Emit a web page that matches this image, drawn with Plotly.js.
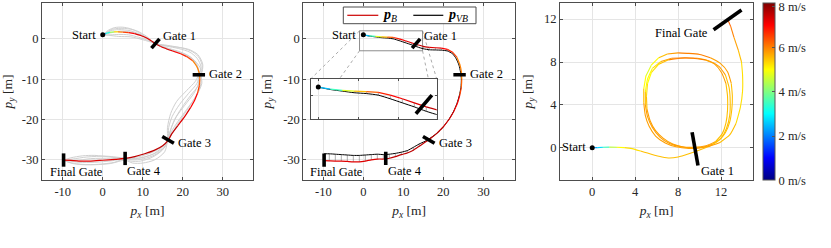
<!DOCTYPE html>
<html><head><meta charset="utf-8">
<script src="https://cdn.plot.ly/plotly-3.0.1.min.js"></script>
<style>html,body{margin:0;padding:0;background:#fff}#plot{width:831px;height:248px}</style>
</head><body><div id="plot"></div>
<script>
// ---------------- DATA ----------------
// Panel 1: reference trajectory (x, y, speed m/s)
var p1x = [0,0.8,1.8,2.8,3.8,5,6.5,8,9.5,11,12.2,13.2,14.5,16,17.5,19.5,21,22.5,23.5,24.1,24.3,24.2,23.7,23,22,20.5,18.8,17.3,16.4,15,13,10.5,8,5.6,3,0,-3,-6,-8,-9.8];
var p1y = [1,1.35,1.6,1.75,1.75,1.7,1.55,1.3,0.85,0.2,-0.55,-1.2,-1.9,-2.5,-3.0,-3.7,-4.4,-5.4,-6.8,-8.3,-9.8,-11.5,-13.5,-15.2,-17,-19.3,-21.5,-23.5,-25.1,-26.5,-27.6,-28.5,-29.2,-29.65,-29.9,-30.1,-30.3,-30.3,-30.15,-30.05];
var p1v = [1.8,2.8,3.8,4.8,5.6,6.3,6.9,7.1,7.2,7.3,7.4,7.4,7.4,7.3,7.1,6.9,6.6,6.2,6.0,6.0,6.1,6.4,6.8,7.0,7.2,7.3,7.4,7.4,7.4,7.4,7.4,7.4,7.4,7.4,7.3,7.3,7.3,7.3,7.2,7.2];

// Panel 1: other (gray) trajectories
var grayAx = [0,1.5,3,5,7,9,11,13.2,15,17.5,20,22.5,24.2,24.9,24.5,24.6,24,22.5,20.5,18.5,16.35,14.5,12,9,5.6,2,-2,-5,-8,-9.8];
var grayAy = [1,2.2,2.8,2.9,2.5,1.6,0.3,-1.15,-1.6,-1.9,-2.3,-3.2,-4.8,-6.8,-8.9,-10.8,-13,-15.5,-18.5,-21.5,-25.05,-27,-28.3,-29.2,-29.7,-29.3,-28.9,-29,-29.5,-30.05];
var grayBx = [0,2,4,6.5,9,11.5,13.2,15.5,18,20.5,22.5,23.8,24.1,23.6,21.5,19.2,17.4,16.5,16.35,15,12.5,9.5,7,5.6,3,-1,-5,-8,-9.8];
var grayBy = [1,1.0,1.1,1.0,0.4,-0.4,-1.15,-2.3,-3.2,-4.0,-5.2,-7,-8.9,-11,-13.5,-16.3,-19.2,-22,-25.05,-27.5,-29.3,-30.3,-30.3,-29.7,-30.6,-31.1,-31.2,-30.8,-30.05];
var grayCx = [0,2,4,7,10,13.2,16,19,21.8,23.6,24.6,24.1,24,22.8,20.5,18.3,17,16.35,15.2,13,10,7.5,5.6,2,-3,-7,-9.8];
var grayCy = [1,2.0,2.3,2.0,0.8,-1.15,-1.8,-2.4,-3.3,-4.8,-7,-8.9,-11,-13.5,-16.5,-19.5,-22.5,-25.05,-27.2,-28.8,-29.8,-30,-29.7,-29.6,-29.7,-30.2,-30.05];
var grayDx = [0,2,4.5,7.5,10.5,13.2,16,19,21.5,23.4,24.5,24.1,23.9,22,19.8,18,16.9,16.35,14.8,12.5,9,5.6,2.5,-2,-6,-9.8];
var grayDy = [1,1.5,1.9,1.6,0.4,-1.15,-2.2,-3.1,-4.2,-5.8,-7.5,-8.9,-11.5,-14,-17,-20,-22.8,-25.05,-27,-28.6,-29.6,-29.7,-30.2,-30.6,-30.6,-30.05];
var grayEx = [0,2.5,5.5,8.5,11,13.2,15.5,18.5,21.5,23.8,25,24.9,24.6,24.8,23.5,21,18.8,17.2,16.5,15.5,13.5,10.5,7.5,5.6,1,-4,-7.5,-9.8];
var grayEy = [1,2.4,2.6,2.0,0.6,-1.15,-1.5,-2.0,-2.6,-3.9,-6.2,-8,-8.9,-11,-14,-17.5,-20.5,-23,-25,-26.8,-28.2,-29.3,-29.8,-29.6,-29.1,-29.3,-29.8,-30.1];
var grayFx = [0,1.5,4,7,10,13,15,17.5,20,22.3,23.7,23.9,23.2,21,18.5,17,16.2,16.2,15.5,13,10,7.5,5.6,2,-2,-6.5,-9.8];
var grayFy = [1,0.9,0.6,0.5,-0.2,-1.1,-2.0,-2.8,-3.6,-4.8,-6.8,-8.9,-10.5,-12.8,-15.5,-18.5,-22,-25,-28,-30,-30.8,-30.8,-30.1,-30.9,-31.2,-31,-30.2];

// Panel 2: p_B (colored by speed) and p_VB (black), index matched
var pBx = [0,1.5,3,4.5,6,7.5,9,10.5,12,13.5,15,16.5,18,19.5,21,22.4,23.4,24.1,24.5,24.6,24.5,24.1,23.5,22.6,21.4,20,18.5,17,15.5,14,12.5,11,9.5,8,6.5,5,3.5,2,0.5,-1,-2.5,-4,-5.5,-7,-8.5,-9.8];
var pBy = [1,0.75,0.6,0.5,0.45,0.35,0.0,-0.45,-0.95,-1.45,-1.85,-2.1,-2.2,-2.3,-2.6,-3.4,-4.6,-6.3,-8.2,-10,-12,-14,-16,-18,-20,-21.8,-23.3,-24.5,-25.6,-26.6,-27.6,-28.3,-28.7,-29.2,-29.6,-29.8,-29.8,-30.0,-30.3,-30.5,-30.5,-30.4,-30.3,-30.3,-30.25,-30.2];
var pBv = [1.8,3.0,4.2,5.2,6.0,6.6,7.0,7.2,7.3,7.4,7.4,7.4,7.3,7.1,6.9,6.6,6.2,6.0,6.0,6.1,6.4,6.8,7.0,7.2,7.3,7.4,7.4,7.4,7.4,7.4,7.4,7.4,7.4,7.4,7.4,7.4,7.3,7.3,7.3,7.3,7.3,7.3,7.2,7.2,7.2,7.2];
var pVBx = [0,1.5,3,4.5,6,7.5,9,10.5,12,13.5,15,16.5,18,19.5,21,22.3,23.2,23.9,24.3,24.5,24.4,24,23.4,22.5,21.3,19.9,18.4,16.9,15.4,13.9,12.5,11,9.5,8,6.5,5,3.5,2,0.5,-1,-2.5,-4,-5.5,-7,-8.5,-9.8];
var pVBy = [1,0.7,0.5,0.3,0.2,0.0,-0.45,-0.95,-1.45,-2.0,-2.45,-2.7,-2.75,-2.8,-3.0,-3.7,-4.9,-6.5,-8.3,-10,-12,-14,-16,-18.1,-20.1,-21.9,-23.4,-24.5,-25.4,-26.1,-26.9,-27.7,-28.1,-28.4,-28.6,-28.7,-28.6,-28.7,-28.8,-28.9,-28.9,-28.8,-28.7,-28.6,-28.5,-28.5];

// Gates for panels 1 and 2 (segment end points)
var gateX = [[12.2,14.2],[22.5,25.6],[14.9,17.8],[5.6,5.6],[-9.8,-9.8]];
var gateY = [[-2.3,0],[-8.9,-8.9],[-24.2,-25.9],[-28,-31.3],[-28.4,-31.7]];

// Panel 3: looped trajectory
var p3x = [0,0.5,1,1.6,2.3,3,3.6,4.5,5.5,6.5,7.2,8,9,10,11,11.8,12.4,12.8,13.0,13.05,12.95,12.6,11.9,11,10,9,8,7,6.2,5.5,5.0,4.8,4.8,4.95,5.3,5.9,6.8,7.8,9,10.2,11.2,12,12.5,12.8,12.85,12.75,12.4,11.8,10.9,9.8,8.6,7.4,6.4,5.6,5.15,4.95,4.95,5.15,5.6,6.3,7.2,8.3,9.5,10.6,11.5,12.1,12.45,12.6,12.6,12.45,12.05,11.4,10.5,9.4,8.2,7.1,6.2,5.5,5.15,5.05,5.1,5.4,5.9,6.6,7.5,8.6,9.8,10.9,11.9,12.8,13.4,13.8,14.0,14.0,13.9,13.6,13.2,12.9,12.6];
var p3y = [0,0.02,0.05,0.06,0.05,0.02,-0.05,-0.3,-0.6,-0.85,-0.95,-0.85,-0.55,-0.2,0.2,0.7,1.4,2.4,3.6,4.8,6.0,7.1,7.9,8.4,8.7,8.8,8.85,8.75,8.4,7.7,6.7,5.5,4.2,3.0,2.0,1.1,0.45,0.1,-0.05,0.0,0.35,0.9,1.8,3,4.3,5.6,6.8,7.6,8.1,8.35,8.4,8.35,8.05,7.4,6.4,5.2,4,2.9,1.9,1.0,0.4,0.1,0.05,0.2,0.6,1.3,2.3,3.5,4.8,6,7.0,7.8,8.2,8.35,8.35,8.2,7.8,7.0,6.0,4.8,3.6,2.5,1.6,0.9,0.35,0.05,0.0,0.15,0.5,1.2,2.3,3.8,5.3,6.8,8.0,9.1,10.3,11.3,12.0];
var p3v = [2.0,2.5,3.2,4.0,4.8,5.1,5.3,5.4,5.5,5.6,5.6,5.6,5.5,5.5,5.4,5.4,5.4,5.4,5.5,5.5,5.6,5.7,5.8,5.9,6.0,6.0,5.9,5.7,5.3,4.9,4.8,5.3,5.6,5.7,5.7,5.7,5.8,5.8,5.8,5.7,5.6,5.5,5.4,5.4,5.5,5.5,5.6,5.7,5.8,5.9,6.0,5.9,5.5,5.0,4.9,5.3,5.6,5.7,5.7,5.7,5.8,5.8,5.8,5.7,5.6,5.5,5.4,5.4,5.5,5.6,5.7,5.8,5.9,6.0,6.0,5.8,5.4,5.0,5.0,5.4,5.6,5.7,5.7,5.7,5.8,5.8,5.8,5.7,5.6,5.5,5.4,5.3,5.3,5.3,5.4,5.6,5.9,6.2,6.5];
var gate3X = [[9.3,9.85],[11.3,13.9]];
var gate3Y = [[1.45,-1.65],[11.0,12.85]];

// Colorbar ticks (top label sits just inside the bar end, as in the figure)
var cbVals = [0,2,4,6,7.84];
var cbText = ['0 m/s','2 m/s','4 m/s','6 m/s','8 m/s'];

// Axis ticks
var xt12 = [-10,0,10,20,30], yt12 = [-30,-20,-10,0];
var xt3 = [0,4,8,12], yt3 = [0,4,8,12];

// Legend entries
var legNames = ['<b><i>p</i></b><sub><i>B</i></sub>','<b><i>p</i></b><sub><i>VB</i></sub>'];

// ---------------- HELPERS ----------------
var FONT = 'Liberation Serif';
function clamp(a){return Math.max(0,Math.min(1,a));}
function jetRGB(v){
  var t = clamp(v/8);
  var r = clamp(1.5-Math.abs(4*t-3)), g = clamp(1.5-Math.abs(4*t-2)), b = clamp(1.5-Math.abs(4*t-1));
  return 'rgb('+Math.round(r*255)+','+Math.round(g*255)+','+Math.round(b*255)+')';
}
var jetScale = [];
for (var k=0;k<=16;k++){ jetScale.push([k/16, jetRGB(8*k/16)]); }

function speedTraces(xs, ys, vs, xa, ya, w){
  var out=[], cur=null, curCol=null;
  for (var i=1;i<xs.length;i++){
    var v = Math.round(((vs[i-1]+vs[i])/2)*4)/4;
    var c = jetRGB(v);
    if (c!==curCol){
      if (cur) out.push(cur);
      cur = {type:'scatter',mode:'lines',x:[xs[i-1]],y:[ys[i-1]],xaxis:xa,yaxis:ya,
             line:{color:c,width:w,shape:'spline',smoothing:0.6},hoverinfo:'skip',showlegend:false};
      curCol=c;
    }
    cur.x.push(xs[i]); cur.y.push(ys[i]);
  }
  if (cur) out.push(cur);
  return out;
}
function grayTrace(xs, ys, xa, ya){
  return {type:'scatter',mode:'lines',x:xs,y:ys,xaxis:xa,yaxis:ya,
          line:{color:'rgb(208,208,208)',width:1,shape:'spline',smoothing:0.8},hoverinfo:'skip',showlegend:false};
}
function gatesTrace(gx, gy, xa, ya){
  var x=[], y=[];
  for (var i=0;i<gx.length;i++){ x.push(gx[i][0],gx[i][1],null); y.push(gy[i][0],gy[i][1],null); }
  return {type:'scatter',mode:'lines',x:x,y:y,xaxis:xa,yaxis:ya,line:{color:'#000',width:3.6},hoverinfo:'skip',showlegend:false};
}
function startDot(x0,y0,xa,ya){
  return {type:'scatter',mode:'markers',x:[x0],y:[y0],xaxis:xa,yaxis:ya,marker:{color:'#000',size:5},hoverinfo:'skip',showlegend:false};
}
function hatchTrace(ax_, ay_, bx_, by_, xa, ya){
  var x=[], y=[];
  for (var i=0;i<ax_.length;i++){ x.push(ax_[i],bx_[i],null); y.push(ay_[i],by_[i],null); }
  return {type:'scatter',mode:'lines',x:x,y:y,xaxis:xa,yaxis:ya,line:{color:'rgb(120,120,120)',width:0.6},hoverinfo:'skip',showlegend:false};
}

// ---------------- GEOMETRY (px) ----------------
var W=831, H=248;
function dx(a,b){return [a/W,b/W];}
function dy(top,bot){return [1-bot/H,1-top/H];}
var R1x=[-15.2,37.6], R1y=[-35,8.9];
var R2x=[-15,37.9], R2y=[-35,8.9];
var R3x=[-3,15], R3y=[-3,13.5];
var insetX=[-0.95,14.8], insetY=[-2.95,2.0];
var insetDom = {x:dx(310.7,436.7), y:dy(79,119)};

// ---------------- TRACES ----------------
var data = [];
[[grayAx,grayAy],[grayBx,grayBy],[grayCx,grayCy],[grayDx,grayDy],[grayEx,grayEy],[grayFx,grayFy]].forEach(function(g){
  data.push(grayTrace(g[0],g[1],'x','y'));
});
data = data.concat(speedTraces(p1x,p1y,p1v,'x','y',1.2));
data.push(gatesTrace(gateX,gateY,'x','y'));
data.push(startDot(p1x[0],p1y[0],'x','y'));

// Panel 2
var dom2x = dx(303.3,515), dom2y = dy(3,180);
function paperToX2(fx){return R2x[0]+(fx-dom2x[0])/(dom2x[1]-dom2x[0])*(R2x[1]-R2x[0]);}
function paperToY2(fy){return R2y[0]+(fy-dom2y[0])/(dom2y[1]-dom2y[0])*(R2y[1]-R2y[0]);}
var iL=paperToX2(insetDom.x[0]), iR=paperToX2(insetDom.x[1]), iB=paperToY2(insetDom.y[0]), iT=paperToY2(insetDom.y[1]);
data.push({type:'scatter',mode:'lines',xaxis:'x2',yaxis:'y2',
  x:[insetX[0],iL,null,insetX[0],iL,null,insetX[1],iR,null,insetX[1],iR],
  y:[insetY[1],iT,null,insetY[0],iB,null,insetY[1],iT,null,insetY[0],iB],
  line:{color:'rgb(150,150,150)',width:0.8,dash:'dot'},hoverinfo:'skip',showlegend:false});
data.push({type:'scatter',mode:'lines',xaxis:'x2',yaxis:'y2',
  x:[insetX[0],insetX[1],insetX[1],insetX[0],insetX[0]], y:[insetY[0],insetY[0],insetY[1],insetY[1],insetY[0]],
  line:{color:'rgb(128,128,128)',width:0.9},hoverinfo:'skip',showlegend:false});
data.push(hatchTrace(pBx,pBy,pVBx,pVBy,'x2','y2'));
data.push({type:'scatter',mode:'lines',x:pVBx,y:pVBy,xaxis:'x2',yaxis:'y2',line:{color:'#000',width:1,shape:'spline',smoothing:0.6},hoverinfo:'skip',showlegend:false});
data = data.concat(speedTraces(pBx,pBy,pBv,'x2','y2',1.2));
data.push(gatesTrace(gateX,gateY,'x2','y2'));
data.push(startDot(pBx[0],pBy[0],'x2','y2'));

// Panel 3
data = data.concat(speedTraces(p3x,p3y,p3v,'x3','y3',1.1));
data.push(gatesTrace(gate3X,gate3Y,'x3','y3'));
data.push(startDot(p3x[0],p3y[0],'x3','y3'));
data.push({type:'scatter',mode:'markers',x:[null],y:[null],xaxis:'x3',yaxis:'y3',hoverinfo:'skip',showlegend:false,
  marker:{color:[0],cmin:0,cmax:8,colorscale:jetScale,showscale:true,
    colorbar:{x:762.7/W,xanchor:'left',xpad:0,ypad:0,y:1-3.3/H,yanchor:'top',len:176.7/H,lenmode:'fraction',
      thickness:11.6,thicknessmode:'pixels',outlinecolor:'#555',outlinewidth:1,borderwidth:0,
      tickmode:'array',tickvals:cbVals,ticktext:cbText,ticks:'inside',ticklen:3,tickcolor:'#555',
      ticklabeloverflow:'allow',
      tickfont:{family:FONT,size:12.5,color:'#262626'}}}});

// Inset
data.push(hatchTrace(pBx,pBy,pVBx,pVBy,'x4','y4'));
data.push({type:'scatter',mode:'lines',x:pVBx,y:pVBy,xaxis:'x4',yaxis:'y4',line:{color:'#000',width:1,shape:'spline',smoothing:0.6},hoverinfo:'skip',showlegend:false});
data = data.concat(speedTraces(pBx,pBy,pBv,'x4','y4',1.2));
data.push(gatesTrace([gateX[0]],[gateY[0]],'x4','y4'));
data.push(startDot(pBx[0],pBy[0],'x4','y4'));

// ---------------- LAYOUT ----------------
function axis(domain, range, tickvals, anchor, labels, title, standoff){
  var a = {domain:domain, range:range, anchor:anchor, autorange:false, fixedrange:true,
    showline:true, mirror:'ticks', linecolor:'#4d4d4d', linewidth:1,
    showgrid:true, gridcolor:'rgb(229,229,229)', gridwidth:1, zeroline:false,
    ticks:'inside', ticklen:3, tickcolor:'#4d4d4d', tickwidth:1,
    tickmode:'array', tickvals:tickvals, ticktext:tickvals.map(function(v){return String(v);}),
    showticklabels:labels, tickfont:{family:FONT,size:12.5,color:'#262626'}};
  if (title) a.title = {text:title, font:{family:FONT,size:13.5,color:'#262626'}, standoff:standoff};
  return a;
}
var tx = '<i>p</i><sub><i>x</i></sub> [m]', ty = '<i>p</i><sub><i>y</i></sub> [m]';
var layout = {
  width:W, height:H, margin:{l:0,r:0,t:0,b:0}, paper_bgcolor:'#fff', plot_bgcolor:'#fff',
  showlegend:false,
  xaxis: axis(dx(42,253), R1x, xt12, 'y', true, tx, 7),
  yaxis: axis(dy(3,180), R1y, yt12, 'x', true, ty, 8),
  xaxis2: axis(dx(303.3,515), R2x, xt12, 'y2', true, tx, 7),
  yaxis2: axis(dy(3,180), R2y, yt12, 'x2', true, ty, 8),
  xaxis3: axis(dx(560,753.3), R3x, xt3, 'y3', true, tx, 7),
  yaxis3: axis(dy(3,180), R3y, yt3, 'x3', true, ty, 8),
  xaxis4: axis(insetDom.x, insetX, [0,5,10], 'y4', false),
  yaxis4: axis(insetDom.y, insetY, [0], 'x4', false),
  annotations: [],
  shapes: []
};
layout.xaxis4.ticklen = 2; layout.yaxis4.ticklen = 2;

function lab(text,x,y,xa,ya,anchor,size){
  layout.annotations.push({text:text,x:x,y:y,xref:xa,yref:ya,xanchor:anchor,yanchor:'middle',showarrow:false,
    font:{family:FONT,size:size||12.5,color:'#000'}});
}
[['x','y'],['x2','y2']].forEach(function(r){
  lab('Start',-1.3,1.0,r[0],r[1],'right');
  lab('Gate 1',14.6,0.8,r[0],r[1],'left');
  lab('Gate 2',26.2,-8.7,r[0],r[1],'left');
  lab('Gate 3',18.3,-25.7,r[0],r[1],'left');
  lab('Gate 4',5.6,-32.7,r[0],r[1],'left');
  lab('Final Gate',-13.8,-32.9,r[0],r[1],'left');
});
lab('Start',-0.4,0.05,'x3','y3','right');
lab('Gate 1',9.9,-2.15,'x3','y3','left');
lab('Final Gate',10.95,10.75,'x3','y3','right');

// Legend box for panel 2 (drawn in paper px)
var legCols = [jetRGB(7.4), '#000'];
var legLine = [[347.3,378.3],[413.3,443.3]];
var legTextX = [380.5,446];
layout.shapes.push({type:'rect',xref:'paper',yref:'paper',x0:343.3/W,x1:476/W,y0:1-23.7/H,y1:1-7/H,
  line:{color:'#4d4d4d',width:1},fillcolor:'#fff',layer:'above'});
for (var j=0;j<2;j++){
  layout.shapes.push({type:'line',xref:'paper',yref:'paper',x0:legLine[j][0]/W,x1:legLine[j][1]/W,y0:1-15.3/H,y1:1-15.3/H,
    line:{color:legCols[j],width:1.2},layer:'above'});
  layout.annotations.push({text:legNames[j],xref:'paper',yref:'paper',x:legTextX[j]/W,y:1-15.8/H,xanchor:'left',yanchor:'middle',
    showarrow:false,font:{family:FONT,size:14,color:'#000'}});
}

Plotly.newPlot('plot', data, layout, {staticPlot:true, displayModeBar:false});
</script></body></html>
